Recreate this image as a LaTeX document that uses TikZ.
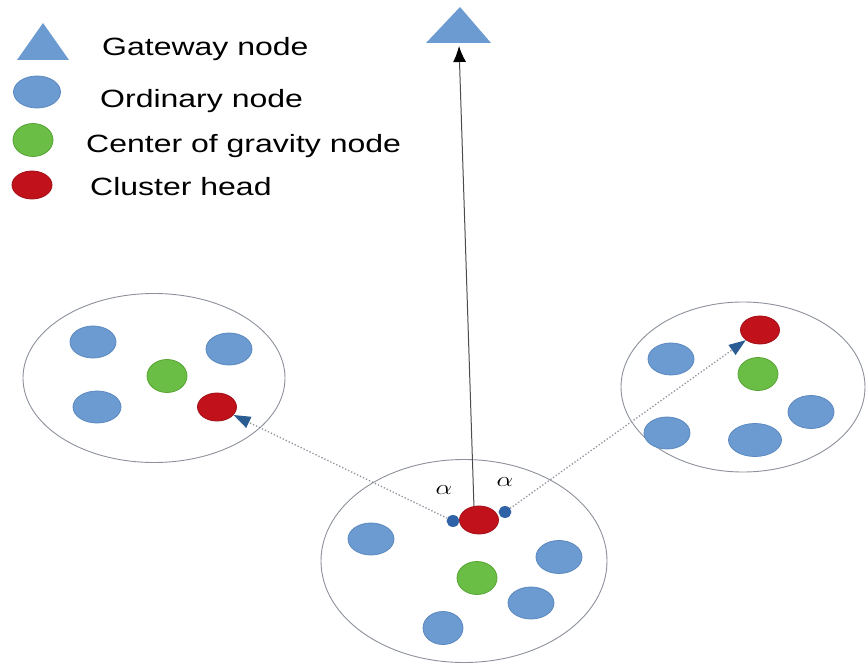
\documentclass[tikz,border=0pt]{standalone}
\usepackage{fontspec}
\setmainfont{Liberation Sans}
\usepackage{graphicx}
\usetikzlibrary{shapes.geometric,arrows.meta}

\definecolor{ordblue}{HTML}{6C9BD2}
\definecolor{ordedge}{HTML}{5B88BE}
\definecolor{cogreen}{HTML}{6BBE45}
\definecolor{cogedge}{HTML}{58A536}
\definecolor{chred}{HTML}{C1121C}
\definecolor{chedge}{HTML}{A20E17}
\definecolor{dotblue}{HTML}{2F62A6}
\definecolor{tipblue}{HTML}{2B5D93}
\definecolor{ringgray}{HTML}{8C919B}
\definecolor{linkgray}{HTML}{8E939C}

\tikzset{
  blob/.style={ellipse, inner sep=0pt, line width=0.8pt},
  ordnode/.style={blob, fill=ordblue, draw=ordedge, minimum width=46pt, minimum height=32pt},
  cognode/.style={blob, fill=cogreen, draw=cogedge, minimum width=40pt, minimum height=33pt},
  chnode/.style={blob, fill=chred, draw=chedge, minimum width=39pt, minimum height=28pt},
  angdot/.style={blob, fill=dotblue, draw=dotblue, minimum width=12pt, minimum height=11pt},
  cluster/.style={ellipse, draw=ringgray, line width=0.9pt, inner sep=0pt},
  legtext/.style={font=\fontsize{25}{30}\selectfont, inner sep=0pt, anchor=base west},
  anglelabel/.style={font=\fontsize{22}{26}\selectfont, inner sep=0pt},
  probe/.style={draw=linkgray, line width=1.3pt, dash pattern=on 1.3pt off 2pt,
    -{Triangle[length=17pt,width=12pt,color=tipblue]}},
  uplink/.style={draw=black!70, line width=1pt,
    -{Latex[length=16pt,width=13pt,color=black]}},
  gwshape/.style={fill=ordblue},
}

\begin{document}
\begin{tikzpicture}[x=1pt,y=-1pt]
\useasboundingbox (0,0) rectangle (867,666);

% ---- legend ----
\fill[gwshape] (43,23) -- (69,60) -- (17,60) -- cycle;
\node[ordnode, minimum width=47pt] (kord) at (37,92) {};
\node[cognode] (kcog) at (33,140) {};
\node[chnode, minimum width=40pt] (kch) at (32,185) {};
\node[legtext] (tgw)  at (102,56)  {\scalebox{1.28}[1]{Gateway node}};
\node[legtext] (tord) at (100,108) {\scalebox{1.28}[1]{Ordinary node}};
\node[legtext] (tcog) at (86,152)  {\scalebox{1.28}[1]{Center of gravity node}};
\node[legtext] (tch)  at (90,195)  {\scalebox{1.28}[1]{Cluster head}};

% ---- gateway ----
\fill[gwshape] (460,7) -- (491,43) -- (426,43) -- cycle;
\coordinate (gw) at (459,46);

% ---- cluster outlines ----
\node[cluster, minimum width=262pt, minimum height=169pt] (cleft)  at (154,378) {};
\node[cluster, minimum width=244pt, minimum height=170pt] (cright) at (743,387) {};
\node[cluster, minimum width=286pt, minimum height=203pt] (cbot)   at (464,561) {};

% ---- left cluster ----
\node[ordnode] (l1) at (93,342) {};
\node[ordnode] (l2) at (229,349) {};
\node[ordnode, minimum width=48pt] (l3) at (97,407) {};
\node[cognode] (lcog) at (167,376) {};
\node[chnode] (lch) at (217,407) {};

% ---- right cluster ----
\node[ordnode] (r1) at (671,359) {};
\node[ordnode, minimum height=33pt] (r2) at (811,412) {};
\node[ordnode] (r3) at (667,433) {};
\node[ordnode, minimum width=53pt, minimum height=33pt] (r4) at (755,440) {};
\node[cognode] (rcog) at (758,374) {};
\node[chnode] (rch) at (760,330) {};

% ---- bottom cluster ----
\node[ordnode] (b1) at (371,539) {};
\node[ordnode, minimum height=33pt] (b2) at (559,557) {};
\node[ordnode] (b3) at (531,603) {};
\node[ordnode, minimum width=40pt, minimum height=33pt] (b4) at (443,628) {};
\node[cognode] (bcog) at (477,578) {};
\node[chnode] (bch) at (479,520) {};
\node[angdot] (dl) at (453,521) {};
\node[angdot] (dr) at (505,512) {};

% ---- links ----
\draw[uplink] (bch.110) -- (gw);
\draw[probe] (dl) -- (lch);
\draw[probe] (dr) -- (rch);

% ---- angle labels ----
\node[anglelabel] (aleft)  at (444,490) {\scalebox{1.27}[1]{$\alpha$}};
\node[anglelabel] (aright) at (505,482) {\scalebox{1.27}[1]{$\alpha$}};
\end{tikzpicture}
\end{document}
